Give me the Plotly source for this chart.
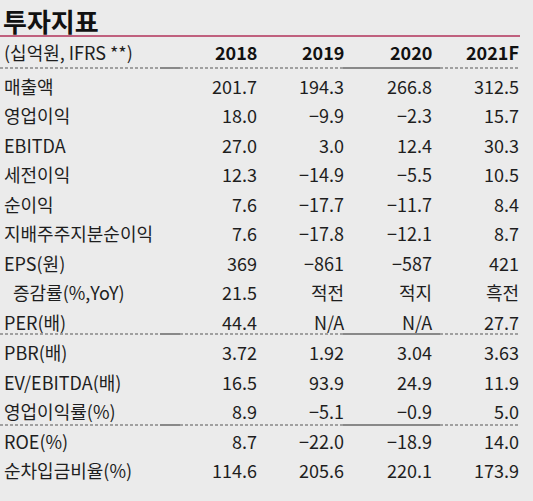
import plotly.graph_objects as go

title = "투자지표"
header_label = "(십억원, IFRS **)"
years = ["2018", "2019", "2020", "2021F"]
row_labels = ["매출액", "영업이익", "EBITDA", "세전이익", "순이익", "지배주주지분순이익",
              "EPS(원)", "증감률(%,YoY)", "PER(배)", "PBR(배)", "EV/EBITDA(배)",
              "영업이익률(%)", "ROE(%)", "순차입금비율(%)"]
col_2018 = ["201.7", "18.0", "27.0", "12.3", "7.6", "7.6", "369", "21.5", "44.4",
            "3.72", "16.5", "8.9", "8.7", "114.6"]
col_2019 = ["194.3", "−9.9", "3.0", "−14.9", "−17.7", "−17.8", "−861", "적전", "N/A",
            "1.92", "93.9", "−5.1", "−22.0", "205.6"]
col_2020 = ["266.8", "−2.3", "12.4", "−5.5", "−11.7", "−12.1", "−587", "적지", "N/A",
            "3.04", "24.9", "−0.9", "−18.9", "220.1"]
col_2021 = ["312.5", "15.7", "30.3", "10.5", "8.4", "8.7", "421", "흑전", "27.7",
            "3.63", "11.9", "5.0", "14.0", "173.9"]
columns = [col_2018, col_2019, col_2020, col_2021]

W, H = 533, 501
FONT = "Noto Sans CJK KR"
TXT = "#1e1e1e"
BG = "#ebebeb"
FS = 18

row_y = [86, 115, 145, 174, 204, 233, 263, 292, 322, 352, 382, 411, 441, 470]
col_right = [258, 345, 433, 520]
header_y = 52

fig = go.Figure()
ann = []
ann.append(dict(x=2, y=1, text="<b>" + title + "</b>", xanchor="left", yanchor="top",
                font=dict(family=FONT, size=26, color="#111")))
ann.append(dict(x=3, y=header_y, text=header_label, xanchor="left", yanchor="middle",
                font=dict(family=FONT, size=FS, color=TXT)))
for yr, xr in zip(years, col_right):
    ann.append(dict(x=xr, y=header_y, text="<b>" + yr + "</b>", xanchor="right", yanchor="middle",
                    font=dict(family=FONT, size=FS, color="#111")))
for i, lab in enumerate(row_labels):
    xl = 12 if lab.startswith("증감률") else 3
    ann.append(dict(x=xl, y=row_y[i], text=lab, xanchor="left", yanchor="middle",
                    font=dict(family=FONT, size=FS, color=TXT)))
    for col, xr in zip(columns, col_right):
        ann.append(dict(x=xr, y=row_y[i], text=col[i], xanchor="right", yanchor="middle",
                        font=dict(family=FONT, size=FS, color=TXT)))
for a in ann:
    a.update(xref="x", yref="y", showarrow=False, borderpad=0)

shapes = [dict(type="line", xref="x", yref="y", x0=0, x1=520, y0=36, y1=36,
               line=dict(color="#c0607e", width=2))]
for ly in [68, 334, 425]:
    shapes.append(dict(type="line", xref="x", yref="y", x0=0, x1=520, y0=ly, y1=ly,
                       line=dict(color="#888", width=1.5, dash="3px,2px")))
    shapes.append(dict(type="line", xref="x", yref="y", x0=160, x1=180, y0=ly, y1=ly,
                       line=dict(color="#888", width=2)))
    shapes.append(dict(type="line", xref="x", yref="y", x0=343, x1=440, y0=ly, y1=ly,
                       line=dict(color="#888", width=2)))

fig.update_layout(
    width=W, height=H, margin=dict(l=0, r=0, t=0, b=0),
    paper_bgcolor=BG, plot_bgcolor=BG,
    xaxis=dict(range=[0, W], visible=False, fixedrange=True),
    yaxis=dict(range=[H, 0], visible=False, fixedrange=True),
    annotations=ann, shapes=shapes, showlegend=False,
)
fig.write_html("out.html", config={"displayModeBar": False},
               post_script="document.body.style.margin='0';document.body.style.background='#ebebeb';document.body.style.overflow='hidden';")
